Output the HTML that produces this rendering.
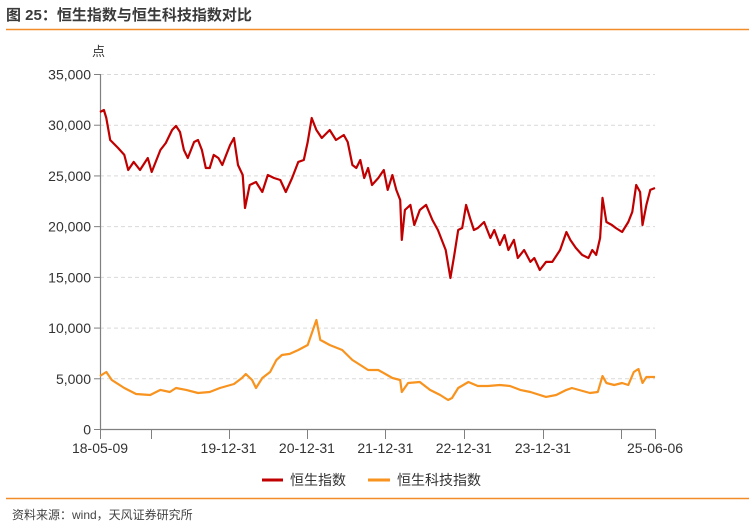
<!DOCTYPE html>
<html><head><meta charset="utf-8"><style>
body{margin:0;background:#fff;}
svg{display:block;font-family:"Liberation Sans","Noto Sans CJK SC",sans-serif;}
</style></head><body>
<svg id="chart" width="755" height="528" viewBox="0 0 755 528">
<text x="6" y="20" font-size="15" font-weight="bold" fill="#3a3a3a">图 25：恒生指数与恒生科技指数对比</text>
<line x1="6" y1="29.5" x2="749" y2="29.5" stroke="#f28c28" stroke-width="1.5"/>
<text x="92" y="56" font-size="13" fill="#333">点</text>
<g id="grid"></g><g id="axes"></g><g id="series"></g>
<g>
<line x1="262" y1="480" x2="283" y2="480" stroke="#c00000" stroke-width="3"/>
<text x="290" y="485" font-size="14" fill="#333">恒生指数</text>
<line x1="368" y1="480" x2="390" y2="480" stroke="#f7931e" stroke-width="3"/>
<text x="397" y="485" font-size="14" fill="#333">恒生科技指数</text>
</g>
<line x1="6" y1="498.5" x2="749" y2="498.5" stroke="#f28c28" stroke-width="1.5"/>
<text x="12" y="519" font-size="12" fill="#444">资料来源：wind，天风证券研究所</text>
</svg>
<script>
const yTicks=[0,5000,10000,15000,20000,25000,30000,35000];
const yTickLabels=["0","5,000","10,000","15,000","20,000","25,000","30,000","35,000"];
const xTickYears=[0,0.65,1.64,2.64,3.64,4.64,5.65,6.65,7.08];
const xLabelYears=[0,1.64,2.64,3.64,4.64,5.65,7.08];
const xLabels=["18-05-09","19-12-31","20-12-31","21-12-31","22-12-31","23-12-31","25-06-06"];
const hsiT=[0,.05,.08,.13,.23,.31,.36,.43,.51,.61,.66,.77,.84,.92,.97,1.02,1.07,1.12,1.2,1.25,1.3,1.35,1.4,1.45,1.51,1.56,1.61,1.66,1.71,1.76,1.82,1.85,1.91,1.99,2.07,2.14,2.22,2.3,2.37,2.45,2.53,2.6,2.65,2.7,2.76,2.83,2.93,3.01,3.11,3.16,3.22,3.27,3.32,3.37,3.42,3.47,3.55,3.62,3.67,3.73,3.78,3.83,3.85,3.89,3.96,4.01,4.08,4.16,4.24,4.31,4.41,4.47,4.52,4.57,4.62,4.67,4.72,4.77,4.82,4.9,4.98,5.03,5.1,5.16,5.21,5.28,5.33,5.41,5.49,5.54,5.61,5.69,5.77,5.87,5.95,6.0,6.07,6.15,6.23,6.28,6.33,6.38,6.41,6.46,6.53,6.58,6.66,6.74,6.79,6.84,6.89,6.92,6.97,7.02,7.08];
const hsiV=[31256,31450,30660,28490,27710,27020,25540,26330,25540,26720,25340,27510,28200,29480,29880,29280,27510,26720,28300,28490,27510,25730,25730,27020,26720,26030,27020,28000,28690,26030,25040,21790,24060,24350,23370,25040,24750,24550,23370,24750,26330,26520,28300,30660,29480,28690,29480,28490,28990,28300,26030,25730,26520,24750,25730,24060,24750,25540,23570,25040,23570,22580,18640,21590,22090,20110,21590,22090,20610,19620,17650,14890,17160,19620,19820,22090,20800,19620,19820,20410,18830,19620,18140,19130,17650,18640,16860,17650,16470,16860,15680,16470,16470,17650,19420,18640,17850,17160,16860,17650,17160,18830,22780,20410,20110,19820,19420,20410,21400,24060,23370,20110,22090,23570,23760];
const techT=[0,.08,.15,.31,.46,.64,.77,.89,.97,1.1,1.25,1.4,1.53,1.71,1.81,1.86,1.94,1.99,2.07,2.17,2.25,2.32,2.42,2.53,2.65,2.76,2.81,2.93,3.09,3.22,3.32,3.42,3.55,3.73,3.83,3.85,3.93,4.08,4.21,4.34,4.44,4.49,4.57,4.7,4.82,4.95,5.1,5.23,5.36,5.49,5.69,5.82,5.95,6.02,6.25,6.35,6.41,6.46,6.56,6.66,6.74,6.81,6.87,6.92,6.97,7.08];
const techV=[5230,5620,4830,4040,3450,3350,3850,3650,4040,3850,3550,3650,4040,4440,5030,5420,4830,4040,5030,5620,6800,7300,7400,7790,8280,10750,8780,8280,7790,6800,6310,5820,5820,5030,4830,3650,4540,4630,3850,3350,2860,3060,4040,4630,4240,4240,4340,4240,3850,3650,3160,3350,3850,4040,3550,3650,5230,4540,4340,4540,4340,5620,5920,4540,5130,5130];
const X0=100,X1=655,Y0=429,Y1=74,TMAX=7.08,VMAX=35000;
const xs=t=>X0+(X1-X0)*t/TMAX;
const ys=v=>Y0-(Y0-Y1)*v/VMAX;
const NS="http://www.w3.org/2000/svg";
function mk(tag,attrs,parent){const e=document.createElementNS(NS,tag);for(const k in attrs)e.setAttribute(k,attrs[k]);parent.appendChild(e);return e;}
const grid=document.getElementById('grid'),axes=document.getElementById('axes'),series=document.getElementById('series');
yTicks.forEach((v,i)=>{
  const y=ys(v)+0.5;
  if(v>0){const g=mk('line',{x1:X0,x2:X1,y1:y,y2:y,stroke:'#d9d9d9','stroke-dasharray':'4 3'},grid);
  
  }
  const t=mk('line',{x1:X0-6,x2:X0,y1:y,y2:y,stroke:'#808080'},axes);
  
  
  const l=mk('text',{x:X0-9,y:y+5,'font-size':14,fill:'#333','text-anchor':'end'},axes);l.textContent=yTickLabels[i];
  
  
});
const ya=mk('line',{x1:X0+0.5,x2:X0+0.5,y1:Y1,y2:Y0,stroke:'#808080','stroke-width':1.2},axes);


const xa=mk('line',{x1:X0,x2:X1,y1:Y0+0.5,y2:Y0+0.5,stroke:'#808080','stroke-width':1.2},axes);


xTickYears.forEach(t=>{const x=Math.round(xs(t))+0.5;const k=mk('line',{x1:x,x2:x,y1:Y0,y2:Y0+10,stroke:'#808080'},axes);
  
  });
xLabelYears.forEach((t,i)=>{const l=mk('text',{x:xs(t),y:Y0+24,'font-size':14,fill:'#333','text-anchor':'middle'},axes);l.textContent=xLabels[i];
  
  });
function line(T,V,color,name){const n=Math.min(T.length,V.length);let d='';for(let i=0;i<n;i++)d+=(i?'L':'M')+xs(T[i]).toFixed(1)+','+ys(V[i]).toFixed(1);
  const p=mk('path',{d:d,fill:'none',stroke:color,'stroke-width':2.2,'stroke-linejoin':'round'},series);
  
  }
line(techT,techV,'#f7931e','hstech-line');
line(hsiT,hsiV,'#c00000','hsi-line');
</script>
</body></html>
